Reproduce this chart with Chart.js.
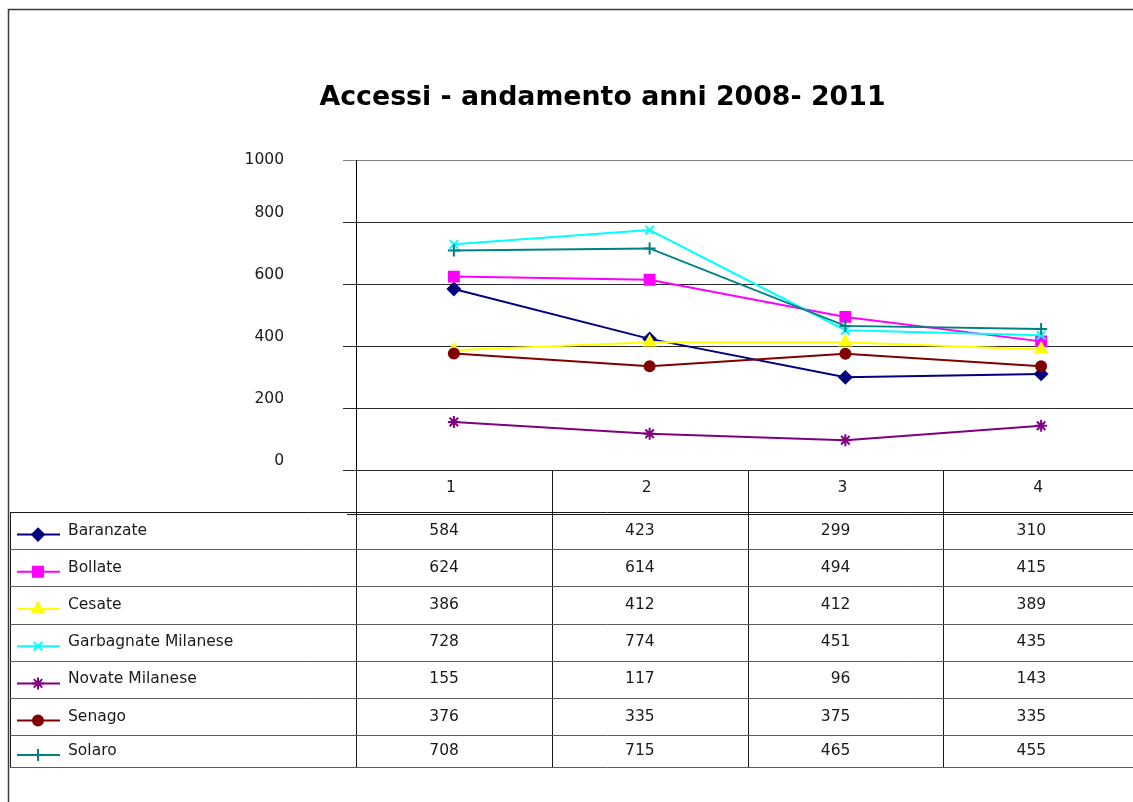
<!DOCTYPE html>
<html>
<head>
<meta charset="utf-8">
<title>Accessi - andamento anni 2008- 2011</title>
<script src="https://cdn.jsdelivr.net/npm/chart.js@4.4.0/dist/chart.umd.min.js"></script>
<style>
  html, body { margin: 0; padding: 0; background: #fff; overflow: hidden; }
  #wrap { position: absolute; left: 0; top: 0; width: 1205px; height: 802px; }
</style>
</head>
<body>
<div id="wrap"><canvas id="accessiChart" width="1205" height="802"></canvas></div>
<script>
// Accessi per comune, andamento 2008-2011
const periods = ['1', '2', '3', '4'];
const comuni = ['Baranzate', 'Bollate', 'Cesate', 'Garbagnate Milanese', 'Novate Milanese', 'Senago', 'Solaro'];

const baranzate = [584, 423, 299, 310];
const bollate = [624, 614, 494, 415];
const cesate = [386, 412, 412, 389];
const garbagnate = [728, 774, 451, 435];
const novate = [155, 117, 96, 143];
const senago = [376, 335, 375, 335];
const solaro = [708, 715, 465, 455];

const yMin = 0;
const yMax = 1000;
const yStep = 200;

const seriesValues = [baranzate, bollate, cesate, garbagnate, novate, senago, solaro];

// line colour + marker for each comune
const seriesStyle = [
    { color: '#000080', point: 'rectRot', radius: 6 },
    { color: '#FF00FF', point: 'rect', radius: 7 },
    { color: '#FFFF00', point: 'triangle', radius: 6.5 },
    { color: '#00FFFF', point: 'crossRot', radius: 6 },
    { color: '#800080', point: 'star', radius: 6 },
    { color: '#800000', point: 'circle', radius: 5 },
    { color: '#008080', point: 'cross', radius: 6 }
];

const FONT = "'DejaVu Sans', Verdana, sans-serif";
const TEXT_COLOR = '#1a1a1a';

// table geometry under the plot
const TABLE_LEFT = 10;
const BODY_TOP = 512;
const ROW_H = 37.2;
const TABLE_BOTTOM = 767;

function drawMarker(ctx, style, x, y) {
    const helpers = Chart.helpers;
    ctx.fillStyle = style.color;
    ctx.strokeStyle = style.color;
    ctx.lineWidth = 2;
    if (helpers && helpers.drawPoint) {
        helpers.drawPoint(ctx, { pointStyle: style.point, radius: style.radius, rotation: 0, borderWidth: 2 }, x, y);
    } else {
        ctx.beginPath();
        ctx.arc(x, y, style.radius, 0, Math.PI * 2);
        ctx.fill();
    }
}

function hLine(ctx, x1, x2, y) {
    const py = Math.round(y) + 0.5;
    ctx.beginPath();
    ctx.moveTo(x1, py);
    ctx.lineTo(x2, py);
    ctx.stroke();
}

function vLine(ctx, x, y1, y2) {
    const px = Math.round(x) + 0.5;
    ctx.beginPath();
    ctx.moveTo(px, y1);
    ctx.lineTo(px, y2);
    ctx.stroke();
}

// Frame + data table with legend keys, drawn after the chart
const dataTable = {
    id: 'dataTable',
    afterDraw(chart) {
        const ctx = chart.ctx;
        const xs = chart.scales.x;
        const area = chart.chartArea;
        const band = (xs.right - xs.left) / periods.length;
        const right = chart.width;

        ctx.save();

        // outer frame
        ctx.strokeStyle = '#3a3a3a';
        ctx.lineWidth = 1.5;
        ctx.beginPath();
        ctx.moveTo(8.5, chart.height);
        ctx.lineTo(8.5, 9.5);
        ctx.lineTo(right, 9.5);
        ctx.stroke();

        // column separators from the axis down to the bottom of the table
        ctx.lineWidth = 1;
        ctx.strokeStyle = '#1a1a1a';
        for (let k = 0; k <= periods.length; k++) {
            vLine(ctx, xs.left + k * band, area.bottom, TABLE_BOTTOM);
        }
        vLine(ctx, TABLE_LEFT, BODY_TOP, TABLE_BOTTOM);

        // header / body double rule
        hLine(ctx, TABLE_LEFT, right, BODY_TOP);
        hLine(ctx, xs.left - 9, right, BODY_TOP + 2);

        // row rules
        ctx.strokeStyle = '#5a5a5a';
        for (let i = 1; i < comuni.length; i++) {
            hLine(ctx, TABLE_LEFT, right, BODY_TOP + i * ROW_H);
        }
        hLine(ctx, TABLE_LEFT, right, TABLE_BOTTOM);

        ctx.font = '15.5px ' + FONT;
        ctx.textBaseline = 'middle';

        comuni.forEach((name, i) => {
            const top = BODY_TOP + i * ROW_H;
            const bottom = i === comuni.length - 1 ? TABLE_BOTTOM : top + ROW_H;
            const cy = (top + bottom) / 2;
            const style = seriesStyle[i];

            // legend key
            ctx.strokeStyle = style.color;
            ctx.lineWidth = 2;
            ctx.beginPath();
            ctx.moveTo(17, cy + 4);
            ctx.lineTo(60, cy + 4);
            ctx.stroke();
            drawMarker(ctx, style, 38, cy + 4);

            ctx.fillStyle = TEXT_COLOR;
            ctx.textAlign = 'left';
            ctx.fillText(name, 68, cy);

            ctx.textAlign = 'right';
            seriesValues[i].forEach((v, j) => {
                ctx.fillText(String(v), xs.getPixelForTick(j) + 5, cy);
            });
        });

        ctx.restore();
    }
};

const datasets = comuni.map((name, i) => ({
    label: name,
    data: seriesValues[i],
    borderColor: seriesStyle[i].color,
    backgroundColor: seriesStyle[i].color,
    pointBorderColor: seriesStyle[i].color,
    pointBackgroundColor: seriesStyle[i].color,
    pointStyle: seriesStyle[i].point,
    pointRadius: seriesStyle[i].radius,
    pointBorderWidth: 2,
    borderWidth: 2,
    tension: 0,
    order: -i
}));

new Chart(document.getElementById('accessiChart'), {
    type: 'line',
    data: { labels: periods, datasets },
    options: {
        responsive: false,
        animation: false,
        devicePixelRatio: 1,
        layout: { padding: 0 },
        plugins: {
            legend: { display: false },
            tooltip: { enabled: false },
            title: {
                display: true,
                text: 'Accessi - andamento anni 2008- 2011',
                color: '#000',
                font: { family: FONT, size: 26.8, weight: 'bold', lineHeight: 1.2 },
                padding: { top: 82.4, bottom: 45.5 }
            }
        },
        scales: {
            x: {
                offset: true,
                grid: { display: false, drawTicks: false },
                border: { display: false },
                ticks: {
                    color: TEXT_COLOR,
                    font: { family: FONT, size: 15.5 },
                    padding: 9,
                    labelOffset: -3,
                    maxRotation: 0
                },
                afterFit(scale) { scale.height = 802 - 470; }
            },
            y: {
                min: yMin,
                max: yMax,
                ticks: {
                    stepSize: yStep,
                    color: TEXT_COLOR,
                    font: { family: FONT, size: 15.5 },
                    padding: 59,
                    labelOffset: -9,
                    // the top label sits just under its rule, the rest sit above theirs
                    callback: (v) => (v === yMax ? ['', String(v)] : String(v))
                },
                grid: {
                    color: (c) => (c.tick && c.tick.value === yMax ? '#808080' : '#2a2a2a'),
                    lineWidth: 1,
                    tickLength: 13
                },
                border: { display: true, color: '#000', width: 1 },
                afterFit(scale) { scale.width = 356; }
            },
            // empty right-hand strip so the plot ends past the window edge
            yPad: {
                position: 'right',
                display: true,
                grid: { display: false, drawTicks: false },
                border: { display: false },
                ticks: { display: false },
                afterFit(scale) { scale.width = 66; }
            }
        }
    },
    plugins: [dataTable]
});
</script>
</body>
</html>
